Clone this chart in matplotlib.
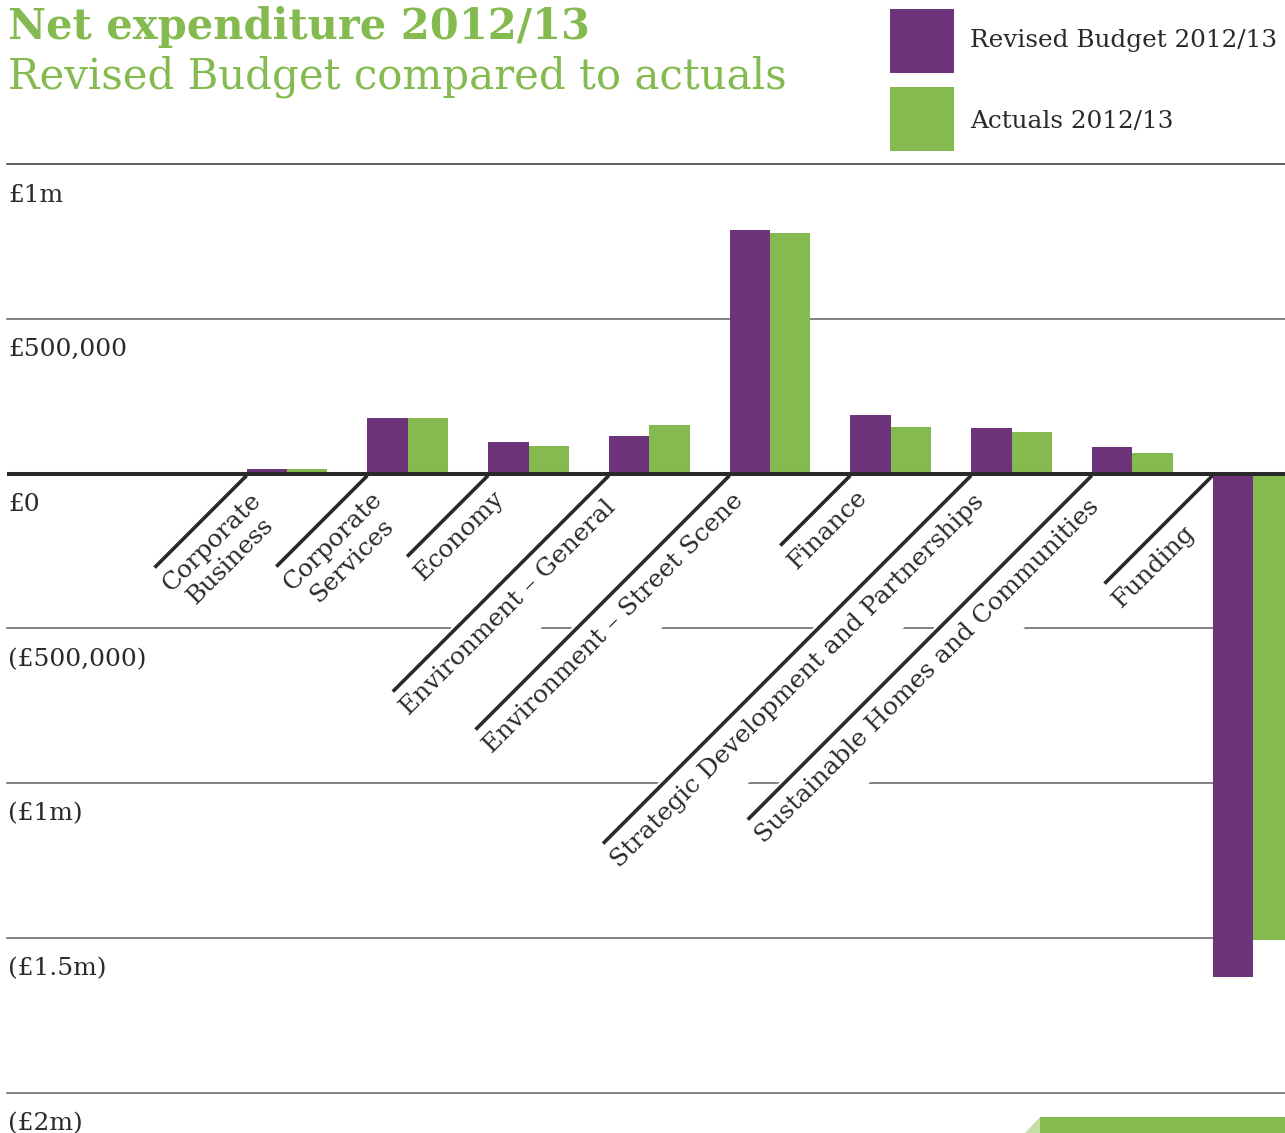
import numpy as np
import matplotlib
matplotlib.use('Agg')
import matplotlib.pyplot as plt
import matplotlib.transforms as mtransforms
from matplotlib.patches import Polygon, Rectangle

W, H = 1285, 1133

categories = ['Corporate\nBusiness', 'Corporate\nServices', 'Economy',
              'Environment – General', 'Environment – Street Scene', 'Finance',
              'Strategic Development and Partnerships',
              'Sustainable Homes and Communities', 'Funding']
revised_budget = [14500, 179000, 102000, 121000, 788000, 189000, 147000, 85000, -1627000]
actuals = [14500, 179000, 89000, 156000, 776000, 150000, 134000, 66000, -1505000]

tick_values = [1e6, 5e5, 0, -5e5, -1e6, -1.5e6, -2e6]
tick_labels = ['£1m', '£500,000', '£0', '(£500,000)', '(£1m)', '(£1.5m)', '(£2m)']

# length (px) of the diagonal rule drawn above each category name
leader_px = [92, 91, 81, 216, 254, 70, 368, 344, 108]

PURPLE = '#6d347c'
GREEN = '#84ba4f'
DARK = '#2a2a2a'

plt.rcParams['font.family'] = ['DejaVu Serif']

fig = plt.figure(figsize=(W / 100, H / 100), dpi=100)
ax = fig.add_axes([7 / W, 0, 1 - 7 / W, (H - 164) / H])
ax.set_xlim(-2.319, 8.265)
ax.set_ylim(-2.13e6, 1.0e6)
ax.axis('off')

x = np.arange(len(categories))
bw = 0.335
ax.bar(x - bw / 2, revised_budget, bw, color=PURPLE, linewidth=0, zorder=3)
ax.bar(x + bw / 2, actuals, bw, color=GREEN, linewidth=0, zorder=3)

# horizontal rules + labels sitting under each rule
for v, lab in zip(tick_values, tick_labels):
    if v == 0:
        ax.axhline(0, color=DARK, lw=2.9, zorder=5)
    else:
        ax.axhline(v, color='#333333' if v == 1e6 else '#5e5e5e', lw=1.1,
                   zorder=1, clip_on=False)
    ax.annotate(lab, xy=(0, v), xycoords=('axes fraction', 'data'),
                xytext=(1, -31), textcoords='offset pixels',
                ha='left', va='center', fontsize=18, color=DARK)

# category names: 45 degree text under a diagonal rule, on a white strip
u = np.array([1, 1]) / np.sqrt(2)    # along the text
p = np.array([1, -1]) / np.sqrt(2)   # across the text, downwards
for i, (lab, L) in enumerate(zip(categories, leader_px)):
    x0 = i - bw
    tr = fig.dpi_scale_trans + mtransforms.ScaledTranslation(x0, 0, ax.transData)
    start = np.array([0.0, -2.0])
    a0 = -L * np.sqrt(2)
    corners = [start + a * u + q * p for a, q in
               [(a0, -4), (5, -4), (5, 60), (a0, 60)]]
    ax.add_patch(Polygon(np.array(corners) / 100, closed=True, transform=tr,
                         facecolor='white', edgecolor='none', zorder=2))
    ax.plot(np.array([0, -L]) / 100, np.array([-2, -2 - L]) / 100,
            transform=tr, color=DARK, lw=2.6, solid_capstyle='butt', zorder=4)
    # text block starts a little before the lower end of the rule
    tx, ty = start + np.array([-L, -L]) - 6 * u + 11 * p
    ax.annotate(lab, xy=(x0, 0), xytext=(tx, ty),
                textcoords='offset pixels', rotation=45, rotation_mode='anchor',
                ha='left', va='top', multialignment='center',
                linespacing=1.2, fontsize=18, color=DARK, zorder=4)

# title block
fig.text(8 / W, 1 - 39 / H, 'Net expenditure 2012/13', fontsize=30,
         fontweight='bold', color=GREEN, va='baseline')
fig.text(8 / W, 1 - 88 / H, 'Revised Budget compared to actuals', fontsize=30.2,
         color=GREEN, va='baseline')

# legend
fig.add_artist(Rectangle((890 / W, 1 - 73 / H), 64 / W, 64 / H,
                         transform=fig.transFigure, color=PURPLE, lw=0))
fig.add_artist(Rectangle((890 / W, 1 - 151 / H), 64 / W, 64 / H,
                         transform=fig.transFigure, color=GREEN, lw=0))
fig.text(970 / W, 1 - 47 / H, 'Revised Budget 2012/13', fontsize=17.8,
         color=DARK, va='baseline')
fig.text(970 / W, 1 - 128 / H, 'Actuals 2012/13', fontsize=17.8,
         color=DARK, va='baseline')

# green tab at the foot of the page
fig.add_artist(Polygon([(1025 / W, 0), (1040 / W, 16 / H), (1040 / W, 0)],
                       closed=True, transform=fig.transFigure,
                       facecolor='#c4dea6', lw=0))
fig.add_artist(Rectangle((1040 / W, 0), 245 / W, 16 / H,
                         transform=fig.transFigure, color=GREEN, lw=0))

fig.savefig('out.png', dpi=100, facecolor='white')
